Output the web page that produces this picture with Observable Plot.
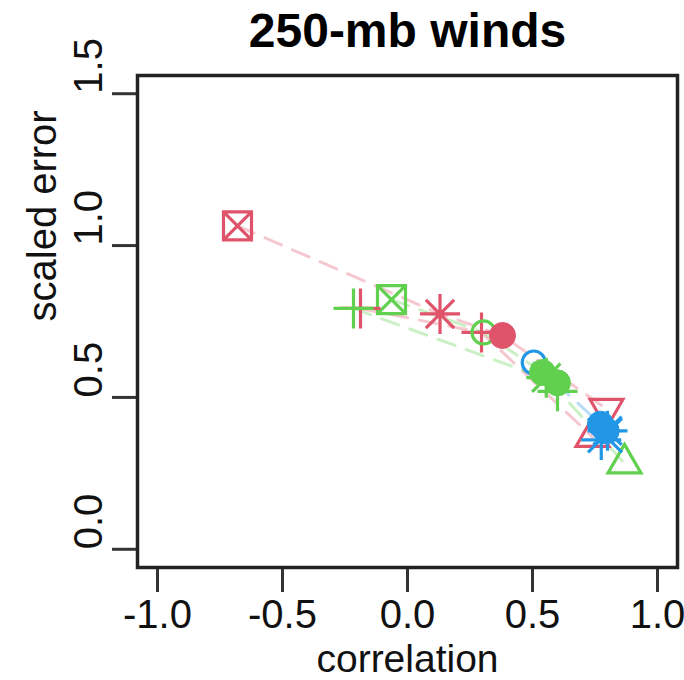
<!DOCTYPE html>
<html><head><meta charset="utf-8">
<script src="https://cdn.jsdelivr.net/npm/d3@7"></script>
<script src="https://cdn.jsdelivr.net/npm/@observablehq/plot@0.6"></script>
<style>
body{margin:0;background:#fff}
#chart svg [aria-label^="x-axis"] line, #chart svg [aria-label^="x-axis"] path,
#chart svg [aria-label^="y-axis"] line, #chart svg [aria-label^="y-axis"] path{stroke:#333;stroke-width:3px;stroke-opacity:1}
</style></head><body><div id="chart"></div>
<script>
const title = "250-mb winds";
const xLabel = "correlation";
const yLabel = "scaled error";
const xTicks = [-1, -0.5, 0, 0.5, 1];
const yTicks = [0, 0.5, 1, 1.5];

const seriesNames = ["red", "green", "blue"];
const seriesColors = ["#DF536B", "#61D04F", "#2297E6"];

const redSymbols = ["boxx", "asterisk", "disc", "tridown", "plus", "plus", "triup"];
const redPaths   = ["a", "a", "a", "a", "b", "b", "b"];
const redX = [-0.68, 0.13, 0.38, 0.796, -0.188, 0.296, 0.74];
const redY = [1.065, 0.775, 0.704, 0.462, 0.793, 0.714, 0.37];

const greenSymbols = ["plus", "boxx", "circle", "disc", "asterisk", "disc", "plus", "triup"];
const greenPaths   = ["b", "a", "a", "a", "a", "b", "b", "a"];
const greenX = [-0.216, -0.064, 0.304, 0.54, 0.555, 0.60, 0.60, 0.868];
const greenY = [0.793, 0.822, 0.714, 0.582, 0.565, 0.548, 0.52, 0.283];

const blueSymbols = ["circle", "disc", "asterisk", "disc", "times", "plus"];
const bluePaths   = ["a", "a", "a", "a", "a", "a"];
const blueX = [0.505, 0.772, 0.80, 0.795, 0.79, 0.775];
const blueY = [0.615, 0.412, 0.39, 0.39, 0.375, 0.36];

const rows = [];
[[redSymbols, redPaths, redX, redY], [greenSymbols, greenPaths, greenX, greenY], [blueSymbols, bluePaths, blueX, blueY]]
  .forEach(([s, p, xs, ys], i) => s.forEach((sym, j) => rows.push({
    series: seriesNames[i], color: seriesColors[i], sym, path: p[j], x: xs[j], y: ys[j]
  })));

// custom symbol shapes (R pch-like)
const R = s => Math.sqrt(s / Math.PI);
const shapes = {
  boxx: {draw(c, s) { const r = R(s); c.moveTo(-r, -r); c.lineTo(r, -r); c.lineTo(r, r); c.lineTo(-r, r); c.closePath();
    c.moveTo(-r, -r); c.lineTo(r, r); c.moveTo(r, -r); c.lineTo(-r, r); }},
  plus: {draw(c, s) { const r = R(s); c.moveTo(-r, 0); c.lineTo(r, 0); c.moveTo(0, -r); c.lineTo(0, r); }},
  times: {draw(c, s) { const d = R(s) * Math.SQRT1_2; c.moveTo(-d, -d); c.lineTo(d, d); c.moveTo(d, -d); c.lineTo(-d, d); }},
  asterisk: {draw(c, s) { const r = R(s), d = r * Math.SQRT1_2; c.moveTo(-r, 0); c.lineTo(r, 0); c.moveTo(0, -r); c.lineTo(0, r);
    c.moveTo(-d, -d); c.lineTo(d, d); c.moveTo(d, -d); c.lineTo(-d, d); }},
  triup: {draw(c, s) { const r = R(s), h = r * Math.sqrt(3) / 2; c.moveTo(0, -r); c.lineTo(h, r / 2); c.lineTo(-h, r / 2); c.closePath(); }},
  tridown: {draw(c, s) { const r = R(s), h = r * Math.sqrt(3) / 2; c.moveTo(0, r); c.lineTo(h, -r / 2); c.lineTo(-h, -r / 2); c.closePath(); }},
  circle: {draw(c, s) { const r = R(s); c.moveTo(r, 0); c.arc(0, 0, r, 0, 2 * Math.PI); }},
  disc: {draw(c, s) { const r = R(s); c.moveTo(r, 0); c.arc(0, 0, r, 0, 2 * Math.PI); }}
};
const sizes = {boxx: 14, plus: 20, times: 24, asterisk: 20, circle: 11.5, disc: 13, triup: 19, tridown: 19};
const order = ["triup", "tridown", "boxx", "plus", "circle", "times", "asterisk", "disc"];

const symbolMarks = order.map(k => {
  const data = rows.filter(d => d.sym === k);
  return k === "disc"
    ? Plot.dot(data, {x: "x", y: "y", r: sizes[k], symbol: shapes[k], fill: "color", stroke: "color", strokeWidth: 1})
    : Plot.dot(data, {x: "x", y: "y", r: sizes[k], symbol: shapes[k], fill: "none", stroke: "color", strokeWidth: 3.2});
});

const fmt = d => d.toFixed(1);

const chart = Plot.plot({
  width: 684, height: 680,
  marginLeft: 137, marginRight: 7, marginTop: 75, marginBottom: 113,
  style: {fontFamily: "'Liberation Sans', Arial, Helvetica, sans-serif", fontSize: "40px", background: "#fff", color: "#000", overflow: "visible"},
  x: {domain: [-1.08, 1.08], ticks: xTicks, tickSize: 25, tickFormat: () => "", label: null},
  y: {domain: [-0.06, 1.56], ticks: yTicks, tickSize: 25, tickFormat: () => "", label: null},
  color: {type: "identity"},
  marks: [
    Plot.line(rows, {x: "x", y: "y", z: d => d.series + d.path, stroke: "color", strokeWidth: 3, strokeOpacity: 0.32, strokeDasharray: "18,12"}),
    ...symbolMarks,
    Plot.frame({stroke: "#222", strokeWidth: 3.5}),
    Plot.text([title], {text: d => d, frameAnchor: "top", dy: -63, fontSize: 48, fontWeight: "bold"}),
    Plot.text(xTicks, {x: d => d, text: fmt, frameAnchor: "bottom", dy: 60, fill: "#111"}),
    Plot.text(yTicks, {y: d => d, text: fmt, frameAnchor: "left", rotate: -90, dx: -48, fill: "#111"}),
    Plot.text([xLabel], {text: d => d, frameAnchor: "bottom", dy: 104, fontSize: 39, fill: "#111"}),
    Plot.text([yLabel], {text: d => d, frameAnchor: "left", rotate: -90, dx: -94, fill: "#111"})
  ]
});
document.getElementById("chart").appendChild(chart);
</script></body></html>
